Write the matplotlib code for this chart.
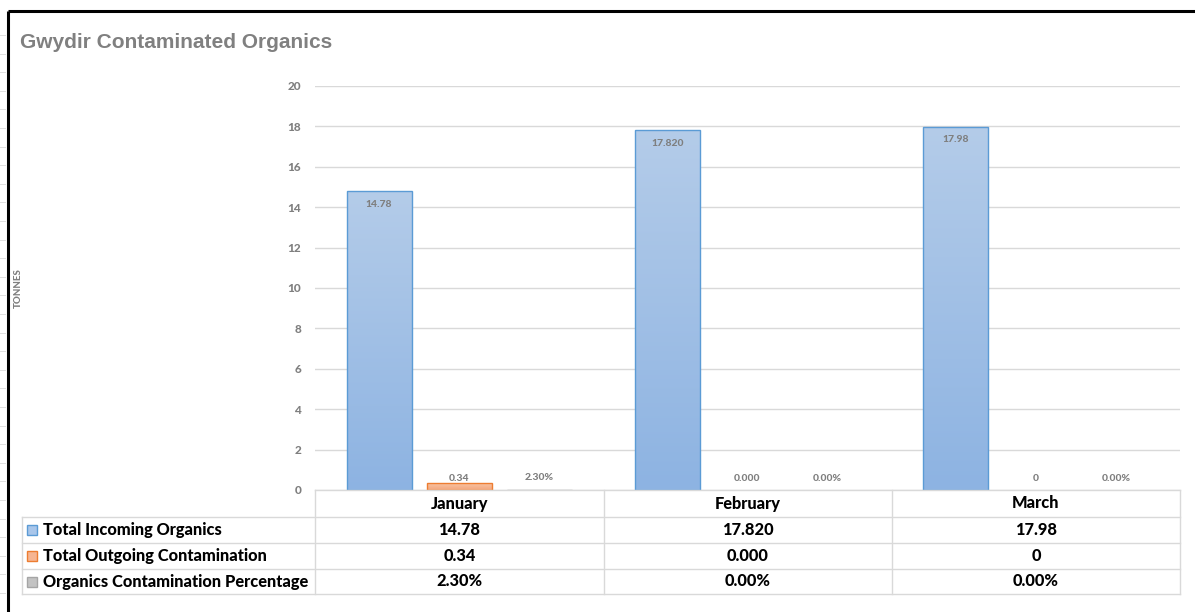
import numpy as np
import matplotlib
matplotlib.use("Agg")
import matplotlib.pyplot as plt
from matplotlib.colors import LinearSegmentedColormap

# ---- data ----
categories = ["January", "February", "March"]
incoming = [14.78, 17.82, 17.98]
outgoing = [0.34, 0.0, 0.0]
contam_pct = [0.023, 0.0, 0.0]          # fraction, shown as percent
incoming_fmt = ["{:.2f}", "{:.3f}", "{:.2f}"]
outgoing_fmt = ["{:.2f}", "{:.3f}", "{:.0f}"]
pct_fmt = ["{:.2%}", "{:.2%}", "{:.2%}"]
series_names = ["Total Incoming Organics", "Total Outgoing Contamination",
                "Organics Contamination Percentage"]
y_ticks = [0, 2, 4, 6, 8, 10, 12, 14, 16, 18, 20]

W, H = 1195, 612
fig = plt.figure(figsize=(W / 100, H / 100), dpi=100)
fig.patch.set_facecolor("white")

TXT_GREY = "#7f7f7f"
GRID = "#d9d9d9"
FONT = "Lato"
HEAVY = 900

# main plotting axes (pixel layout)
x0, x1, y_top, y_bot = 315, 1180, 86, 490
ax = fig.add_axes([x0 / W, 1 - y_bot / H, (x1 - x0) / W, (y_bot - y_top) / H])
ax.set_xlim(-0.5, 2.5)
ax.set_ylim(0, 20)
ax.set_facecolor("none")
for s in ax.spines.values():
    s.set_visible(False)
ax.set_xticks([])
ax.set_yticks(y_ticks)
ax.tick_params(axis="y", length=0, pad=10, labelsize=8.5, labelcolor=TXT_GREY)
for lab in ax.get_yticklabels():
    lab.set_fontfamily(FONT)
    lab.set_fontweight(HEAVY)
ax.grid(axis="y", color=GRID, linewidth=1.0)
ax.set_axisbelow(True)

xs = np.arange(len(categories))
bw = 0.2254
off = 0.2775

blue_cmap = LinearSegmentedColormap.from_list("b", ["#8db3e2", "#b4cce9"])
orange_cmap = LinearSegmentedColormap.from_list("o", ["#f3a77c", "#f8c3a4"])
grey_cmap = LinearSegmentedColormap.from_list("g", ["#a5a5a5", "#c9c9c9"])


def gradient_bars(xpos, vals, cmap, edge):
    bars = ax.bar(xpos, vals, width=bw, color="none", edgecolor=edge,
                  linewidth=1.0, zorder=3)
    grad = np.linspace(0, 1, 256).reshape(-1, 1)
    for b, v in zip(bars, vals):
        if v <= 0:
            b.set_linewidth(0)
            continue
        im = ax.imshow(grad, cmap=cmap, origin="lower", aspect="auto",
                       extent=[b.get_x(), b.get_x() + b.get_width(), 0, v],
                       zorder=2)
        im.set_clip_path(b)
    return bars


gradient_bars(xs - off, incoming, blue_cmap, "#5b9bd5")
gradient_bars(xs, outgoing, orange_cmap, "#ed7d31")
gradient_bars(xs + off, contam_pct, grey_cmap, "#a5a5a5")
ax.set_xlim(-0.5, 2.5)
ax.set_ylim(0, 20)

lab_kw = dict(ha="center", fontsize=7.5, color=TXT_GREY, fontfamily=FONT,
              fontweight=HEAVY, zorder=5)
for i in range(len(categories)):
    ax.annotate(incoming_fmt[i].format(incoming[i]), (xs[i] - off, incoming[i]),
                xytext=(0, -9.5), textcoords="offset points", va="center", **lab_kw)
    ax.annotate(outgoing_fmt[i].format(outgoing[i]), (xs[i], outgoing[i]),
                xytext=(0, 8.5 - outgoing[i] * 14.5), textcoords="offset points",
                va="center", **lab_kw)
    ax.annotate(pct_fmt[i].format(contam_pct[i]), (xs[i] + off, contam_pct[i]),
                xytext=(0, 8.5), textcoords="offset points", va="center", **lab_kw)

# overlay in pixel coordinates for frame, title and data table
ov = fig.add_axes([0, 0, 1, 1], zorder=10)
ov.set_xlim(0, W)
ov.set_ylim(H, 0)
ov.axis("off")
ov.patch.set_alpha(0)

# outer frame (top and left)
ov.plot([8, W], [11, 11], color="black", lw=2.2, solid_capstyle="butt")
ov.plot([8, 8], [11, H], color="black", lw=2.2, solid_capstyle="butt")
for yy in np.arange(35, H, 18.6):
    ov.plot([0, 5], [yy, yy], color="#dedede", lw=0.7)

ov.text(20, 43, "Gwydir Contaminated Organics", fontsize=15, fontweight="bold",
        color="#808080", fontfamily="Liberation Sans", va="center", ha="left")
ov.text(18, 288, "TONNES", rotation=90, fontsize=7, fontweight=HEAVY,
        color=TXT_GREY, fontfamily=FONT, va="center", ha="center")

# data table
col_edges = [315, 604, 892, 1180]
row_edges = [490, 517, 543, 569, 594]
left_x = 22
lw_t = 1.0
ov.plot([col_edges[0], col_edges[-1]], [row_edges[0]] * 2, color=GRID, lw=lw_t)
for r in row_edges[1:]:
    ov.plot([left_x, col_edges[-1]], [r, r], color=GRID, lw=lw_t)
ov.plot([left_x, left_x], [row_edges[1], row_edges[-1]], color=GRID, lw=lw_t)
for c in col_edges:
    ov.plot([c, c], [row_edges[0], row_edges[-1]], color=GRID, lw=lw_t)

tkw = dict(fontsize=11.8, fontweight=HEAVY, color="black", fontfamily=FONT,
           va="center")
for i, cat in enumerate(categories):
    cx = (col_edges[i] + col_edges[i + 1]) / 2
    ov.text(cx, (row_edges[0] + row_edges[1]) / 2, cat, ha="center", **tkw)
    ov.text(cx, (row_edges[1] + row_edges[2]) / 2,
            incoming_fmt[i].format(incoming[i]), ha="center", **tkw)
    ov.text(cx, (row_edges[2] + row_edges[3]) / 2,
            outgoing_fmt[i].format(outgoing[i]), ha="center", **tkw)
    ov.text(cx, (row_edges[3] + row_edges[4]) / 2,
            pct_fmt[i].format(contam_pct[i]), ha="center", **tkw)

swatches = [("#a9c6ea", "#5b9bd5"), ("#f6b592", "#ed7d31"), ("#c3c3c3", "#a5a5a5")]
for j, (name, (fc, ec)) in enumerate(zip(series_names, swatches)):
    cy = (row_edges[j + 1] + row_edges[j + 2]) / 2
    ov.add_patch(plt.Rectangle((27.5, cy - 5), 10, 10, facecolor=fc,
                               edgecolor=ec, lw=1.0))
    ov.text(43, cy, name, ha="left", **tkw)

fig.savefig("out.png", dpi=100, facecolor="white")
